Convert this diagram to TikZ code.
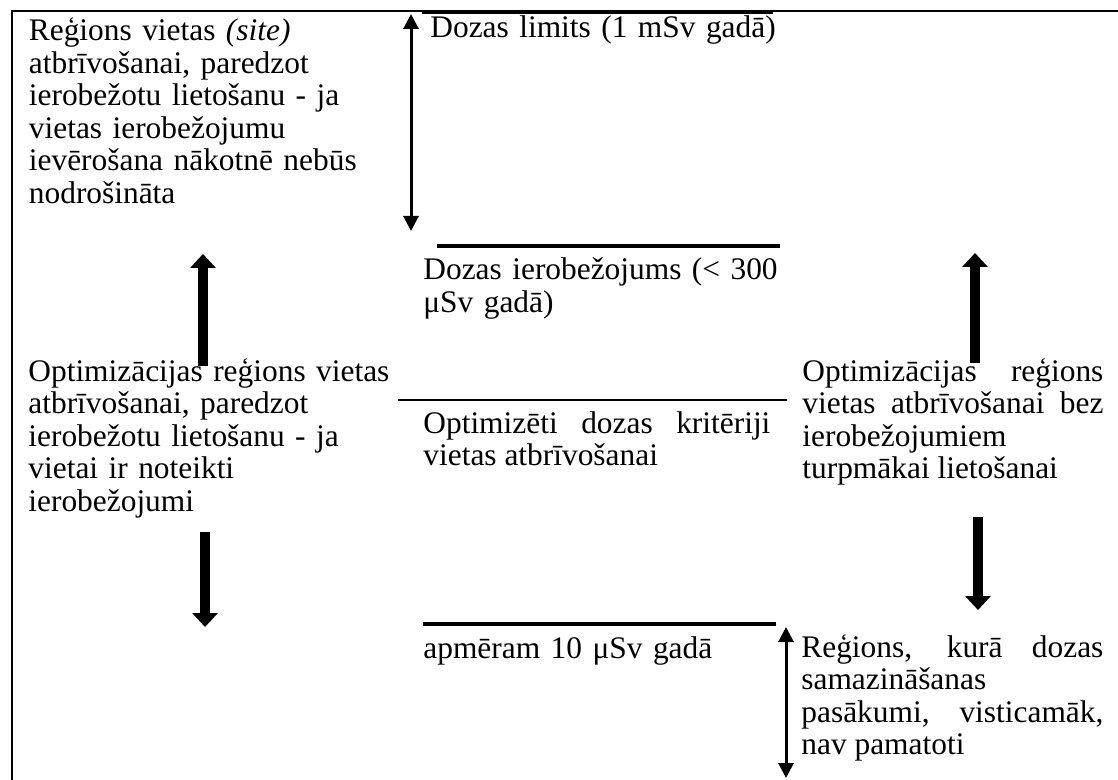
\documentclass[tikz,border=0pt]{standalone}
\usepackage{fontspec}
\setmainfont{Liberation Serif}
\usetikzlibrary{arrows.meta}

\begin{document}
\begin{tikzpicture}[x=0.5pt, y=-0.5pt,
    cellText/.style={anchor=base west, inner sep=0pt, align=left,
        font=\fontsize{15.7}{16.25}\selectfont},
    limitLine/.style={line width=2pt},
    fatArrow/.style={-{Triangle[length=7pt,width=12.5pt]}, line width=5pt},
    slimArrow/.style={{Triangle[length=7.5pt,width=7.5pt]}-{Triangle[length=7.5pt,width=7.5pt]}, line width=1.5pt}]

    \useasboundingbox (0,0) rectangle (1118,780);

    % frame of the table
    \draw[line width=1.25pt] (1118,11) -- (12,11) -- (12,780);

    % dose levels
    \draw[limitLine] (422,12) -- (773,12);
    \draw[limitLine] (437,246) -- (780,246);
    \draw[line width=1.2pt] (398,400) -- (787,400);
    \draw[limitLine] (423,624) -- (776,624);

    % level texts
    \node[cellText, text width=180pt] (limitText) at (430,37.5) {Dozas limits (1 mSv gadā)};
    \node[cellText, text width=180pt] (constraintText) at (423,280)
        {Dozas ierobežojums (< 300\\ μSv gadā)};
    \node[cellText, text width=173.5pt, align=justify] (criteriaText) at (423,433)
        {Optimizēti dozas kritēriji\linebreak vietas atbrīvošanai};
    \node[cellText, text width=180pt] (trivialText) at (423,658) {apmēram 10 μSv gadā};

    % regions
    \node[cellText, text width=185pt] (restrictedRegion) at (28.5,41)
        {Reģions vietas \textit{(site)}\\ atbrīvošanai, paredzot\\ ierobežotu lietošanu - ja\\
         vietas ierobežojumu\\ ievērošana nākotnē nebūs\\ nodrošināta};
    \node[cellText, text width=185pt] (optimRestricted) at (28,381)
        {Optimizācijas reģions vietas\\ atbrīvošanai, paredzot\\ ierobežotu lietošanu - ja\\
         vietai ir noteikti\\ ierobežojumi};
    \node[cellText, text width=150.5pt, align=justify] (optimFree) at (802,381)
        {Optimizācijas reģions\linebreak vietas atbrīvošanai bez\linebreak
         ierobežojumiem\\ turpmākai lietošanai};
    \node[cellText, text width=151pt, align=justify] (lowRegion) at (801,657)
        {Reģions, kurā dozas\linebreak samazināšanas\\ pasākumi, visticamāk,\linebreak nav pamatoti};

    % ranges
    \coordinate (limitTop) at (411,14);
    \coordinate (limitBottom) at (411,231);
    \coordinate (trivialTop) at (786,627);
    \coordinate (trivialBottom) at (786,778);
    \draw[slimArrow] (limitTop) -- (limitBottom);
    \draw[slimArrow] (trivialTop) -- (trivialBottom);

    % directions
    \foreach \nm/\x/\a/\b in {upLeft/203/366/254, downLeft/205/532/627,
                              upRight/975/363/253, downRight/978/517/610} {
        \coordinate (\nm From) at (\x,\a);
        \coordinate (\nm To) at (\x,\b);
        \draw[fatArrow] (\nm From) -- (\nm To);
    }

\end{tikzpicture}
\end{document}
